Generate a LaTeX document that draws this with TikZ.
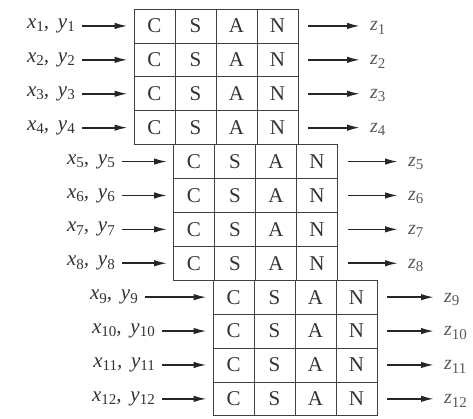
\documentclass[tikz,border=0pt]{standalone}
\usepackage{fontspec}
\setmainfont{Liberation Serif}
\usetikzlibrary{arrows.meta}
\newcommand{\lbsub}[1]{\raisebox{-0.35ex}{\fontsize{15}{15}\selectfont #1}}
\begin{document}
\begin{tikzpicture}[x=1pt,y=-1pt,
  cell/.style={draw=black!75, line width=0.8pt, minimum width=41pt, minimum height=33.9pt, inner sep=0pt, font=\fontsize{21}{22}\selectfont, text=black!80},
  lbl/.style={font=\fontsize{21}{22}\selectfont\itshape, text=black!80, inner sep=0pt},
  zlbl/.style={font=\fontsize{20}{22}\selectfont\itshape, text=black!65, inner sep=0pt, anchor=west},
  arr/.style={-{Latex[length=13pt,width=6.5pt]}, line width=1.7pt, draw=black!85}]
\useasboundingbox (0,0) rectangle (473,418);
\foreach \i/\xs/\xz in {1/82/370,2/82/370,3/82/370,4/82/370,5/122/408,6/122/408,7/122/408,8/122/408,9/145/444,10/162/444,11/162/444,12/162/444} {
  \pgfmathtruncatemacro\g{(\i-1)/4}
  \pgfmathsetmacro\xl{134+39.5*\g}
  \pgfmathsetmacro\yc{9+33.9*(\i-0.5)}
  \node[cell] (c\i) at ({\xl+20.5},{\yc}) {C};
  \node[cell] (s\i) at ({\xl+61.5},{\yc}) {S};
  \node[cell] (a\i) at ({\xl+102.5},{\yc}) {A};
  \node[cell] (n\i) at ({\xl+143.5},{\yc}) {N};
  \node[lbl, anchor=east] (l\i) at ({\xs-7},{\yc}) {x\lbsub{\upshape\i}, \,y\lbsub{\upshape\i}};
  \node[zlbl] (z\i) at ({\xz},{\yc+2}) {z\lbsub{\upshape\i}};
  \draw[arr, shorten <=7pt, shorten >=6pt] (l\i.east |- c\i.west) -- (c\i.west);
  \draw[arr, shorten <=10pt, shorten >=10pt] (n\i.east) -- (n\i.east -| z\i.west);
}
\end{tikzpicture}
\end{document}
